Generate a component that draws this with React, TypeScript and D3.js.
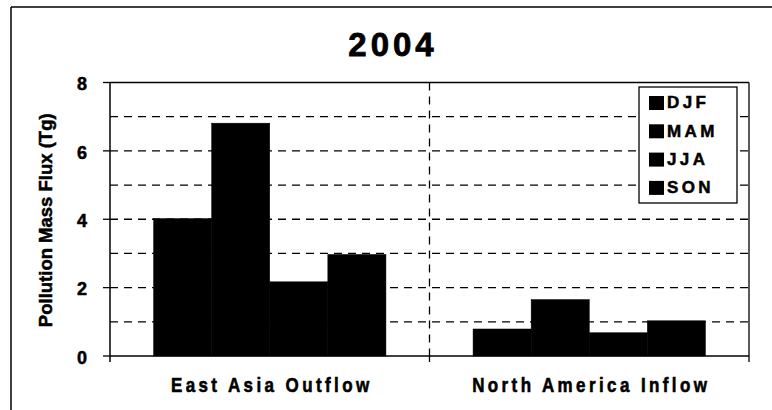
import React from "react";
import * as d3 from "d3";

const categories = ["East Asia Outflow", "North America Inflow"];
const seasons = ["DJF", "MAM", "JJA", "SON"];
const djf = [4.02, 0.79];
const mam = [6.81, 1.65];
const jja = [2.17, 0.68];
const son = [2.97, 1.03];
const yTicks = [0, 2, 4, 6, 8];
const gridValues = [1, 2, 3, 4, 5, 6, 7];
const title = "2004";
const yTitle = "Pollution Mass Flux (Tg)";

const W = 772;
const H = 410;
const M = { left: 110, right: 749, top: 82.5, bottom: 356 };
const FONT = "'Liberation Sans', Arial, Helvetica, sans-serif";

export default function App() {
  const series = [djf, mam, jja, son];
  const x0 = d3.scaleBand<string>().domain(categories).range([M.left, M.right]).padding(0);
  const x1 = d3
    .scaleBand<string>()
    .domain(seasons)
    .range([0, x0.bandwidth()])
    .paddingInner(0)
    .paddingOuter(0.75);
  const y = d3.scaleLinear().domain([0, 8]).range([M.bottom, M.top]);
  const bold = { fontWeight: "bold" as const, stroke: "#000", strokeWidth: 0.5 };

  return (
    <svg
      width={W}
      height={H}
      style={{ position: "absolute", left: 0, top: 0, background: "#fff" }}
      fontFamily={FONT}
    >
      <rect x={0} y={0} width={W} height={H} fill="#fff" />
      {/* outer frame (open at right/bottom) */}
      <line x1={11} x2={W} y1={7} y2={7} stroke="#000" strokeWidth={1.5} />
      <line x1={11} x2={11} y1={7} y2={H} stroke="#000" strokeWidth={1.5} />

      {/* title */}
      <text
        x={393}
        y={56}
        textAnchor="middle"
        fontSize={33}
        letterSpacing={4}
        fontWeight="bold"
        stroke="#000"
        strokeWidth={0.8}
      >
        {title}
      </text>

      {/* horizontal dashed grid */}
      {gridValues.map((v) => (
        <line
          key={"g" + v}
          x1={M.left}
          x2={M.right}
          y1={y(v)}
          y2={y(v)}
          stroke="#000"
          strokeWidth={1.3}
          strokeDasharray="8,6"
        />
      ))}
      {/* vertical dashed category divider */}
      <line
        x1={x0(categories[1])}
        x2={x0(categories[1])}
        y1={M.top}
        y2={M.bottom}
        stroke="#000"
        strokeWidth={1.3}
        strokeDasharray="8,6"
      />

      {/* bars */}
      {categories.map((c, ci) => (
        <g key={c}>
          {seasons.map((s, si) => {
            const v = series[si][ci];
            return (
              <rect
                key={s}
                x={(x0(c) as number) + (x1(s) as number)}
                y={y(v)}
                width={x1.bandwidth()}
                height={y(0) - y(v)}
                fill="#000"
                stroke="#000"
                strokeWidth={0.5}
              />
            );
          })}
        </g>
      ))}

      {/* plot borders */}
      <line x1={M.left} x2={M.right} y1={M.top} y2={M.top} stroke="#000" strokeWidth={1.3} />
      <line x1={M.right} x2={M.right} y1={M.top} y2={M.bottom + 6} stroke="#000" strokeWidth={1.3} />
      <line x1={M.left} x2={M.left} y1={M.top} y2={M.bottom + 6} stroke="#000" strokeWidth={1.5} />
      <line x1={M.left} x2={M.right} y1={M.bottom} y2={M.bottom} stroke="#000" strokeWidth={1.5} />
      <line
        x1={x0(categories[1])}
        x2={x0(categories[1])}
        y1={M.bottom}
        y2={M.bottom + 6}
        stroke="#000"
        strokeWidth={1.3}
      />

      {/* y ticks */}
      {yTicks.map((t) => (
        <g key={"t" + t}>
          <line x1={M.left - 7} x2={M.left} y1={y(t)} y2={y(t)} stroke="#000" strokeWidth={1.3} />
          <text
            x={87}
            y={y(t) + 3}
            textAnchor="end"
            dominantBaseline="middle"
            fontSize={18}
            {...bold}
          >
            {t}
          </text>
        </g>
      ))}

      {/* y title */}
      <text
        transform={`translate(52,${(M.top + M.bottom) / 2 + 1}) rotate(-90)`}
        textAnchor="middle"
        fontSize={18.5}
        {...bold}
      >
        {yTitle}
      </text>

      {/* category labels */}
      {categories.map((c) => (
        <text
          key={"l" + c}
          transform={`translate(${(x0(c) as number) + x0.bandwidth() / 2 + 2},392) scale(1,1.2)`}
          textAnchor="middle"
          fontSize={17}
          letterSpacing={3.4}
          {...bold}
        >
          {c}
        </text>
      ))}

      {/* legend */}
      <g>
        <rect x={639} y={87} width={98} height={116} fill="#fff" stroke="#000" strokeWidth={1.3} />
        {seasons.map((s, i) => {
          const cy = 103 + i * 28.3;
          return (
            <g key={"lg" + s}>
              <rect x={649} y={cy - 7} width={15} height={14} fill="#000" />
              <text
                x={667}
                y={cy + 1}
                dominantBaseline="middle"
                fontSize={17}
                letterSpacing={3.4}
                {...bold}
              >
                {s}
              </text>
            </g>
          );
        })}
      </g>
    </svg>
  );
}
